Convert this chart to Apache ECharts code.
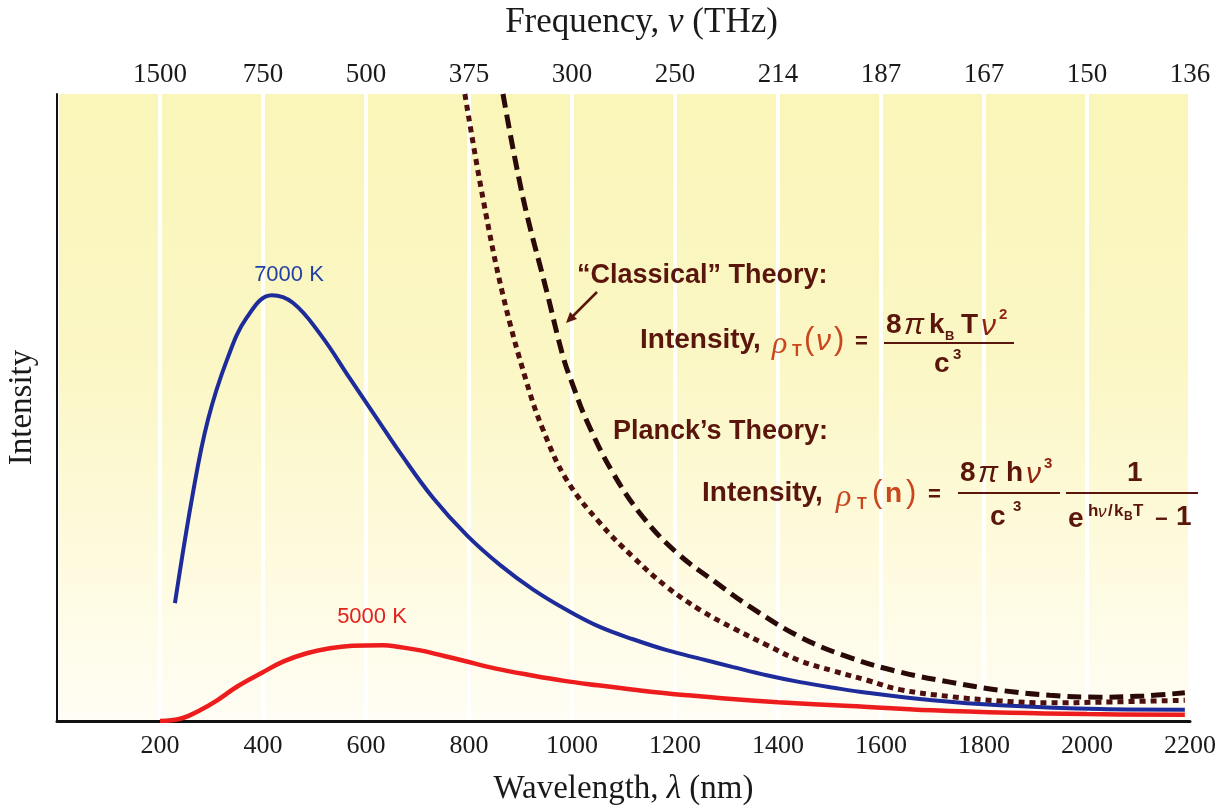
<!DOCTYPE html>
<html><head><meta charset="utf-8">
<script src="https://cdn.jsdelivr.net/npm/echarts@6/dist/echarts.min.js"></script>
<style>html,body{margin:0;padding:0;background:#fff}#c{width:1216px;height:807px}</style>
</head><body><div id="c"></div>
<script>
// ---- data ----
const wavelengthTicks = [0, 200, 400, 600, 800, 1000, 1200, 1400, 1600, 1800, 2000, 2200];
const wavelengthLabels = ['', '200', '400', '600', '800', '1000', '1200', '1400', '1600', '1800', '2000', '2200'];
const frequencyLabels = ['', '1500', '750', '500', '375', '300', '250', '214', '187', '167', '150', '136'];

// [wavelength nm, intensity (arbitrary units, axis 0-100)]
const planck7000K = [[229,18.8],[264,36.4],[293,48.0],[330,57.6],[369,64.4],[417,67.9],[458,66.7],[511,61.7],[569,54.6],[620,48.4],[666,42.8],[730,35.6],[796,29.6],[860,24.9],[924,21.0],[990,17.7],[1054,15.0],[1120,13.0],[1184,11.3],[1250,9.9],[1313,8.6],[1378,7.3],[1443,6.2],[1508,5.3],[1573,4.5],[1700,3.3],[1831,2.5],[2025,1.9],[2190,1.8]];
const planck5000K = [[200,0],[241,0.4],[275,1.6],[311,3.3],[350,5.5],[398,7.7],[440,9.5],[485,10.8],[530,11.6],[573,12.0],[633,12.1],[665,11.8],[703,11.3],[750,10.4],[790,9.6],[850,8.4],[920,7.3],[985,6.4],[1050,5.7],[1140,4.8],[1225,4.1],[1310,3.5],[1400,3.0],[1540,2.4],[1700,1.7],[1850,1.3],[2000,1.1],[2190,1.0]];
const classical5000K = [[792,100],[827,83.4],[866,67.9],[912,54.0],[944,46.4],[990,38.4],[1054,31.6],[1118,26.2],[1184,21.4],[1249,17.7],[1313,14.8],[1379,12.1],[1443,9.6],[1507,8.0],[1573,6.5],[1637,5.0],[1734,3.9],[1831,3.2],[1928,2.9],[2025,3.0],[2190,3.3]];
const classical7000K = [[866,100],[905,83.4],[951,68.5],[983,58.0],[1002,53.5],[1029,47.8],[1080,39.5],[1138,32.5],[1204,26.8],[1281,22.0],[1346,18.2],[1443,13.4],[1540,10.1],[1637,7.8],[1734,6.2],[1831,4.9],[1928,4.1],[2025,3.8],[2110,4.0],[2190,4.5]];

// ---- chart ----
const chart = echarts.init(document.getElementById('c'), null, {renderer: 'canvas'});
const serif = '"Liberation Serif", "Times New Roman", serif';
const sans = '"Liberation Sans", Arial, sans-serif';
const dark = '#5a160c';
const mid = '#8e2612';
const red = '#c9461f';

function labelAt(list) {
  return function (v) { const i = wavelengthTicks.indexOf(Math.round(v)); return i >= 0 ? list[i] : ''; };
}
function txt(text, x, y, size, color, o) {
  o = o || {};
  const font = (o.italic ? 'italic ' : '') + (o.bold === false ? '' : 'bold ') + size + 'px ' + (o.family || sans);
  return {type: 'text', x: x, y: y, z: 100, silent: true,
    style: {text: text, font: font, fill: color, align: o.align || 'left', verticalAlign: 'middle',
            textAlign: o.align || 'left', textVerticalAlign: 'middle'}};
}
function hline(x1, x2, y, color) {
  return {type: 'line', z: 100, silent: true, shape: {x1: x1, y1: y, x2: x2, y2: y}, style: {stroke: color, lineWidth: 2}};
}
const gi = {italic: true, bold: false, family: serif};
const gs = {italic: true, bold: false};

const graphics = [
  txt('7000 K', 289, 275, 22, '#2340a4', {bold: false, align: 'center'}),
  txt('5000 K', 372, 617, 22, '#e3201e', {bold: false, align: 'center'}),
  // classical theory
  txt('\u201CClassical\u201D Theory:', 577, 276, 27, dark),
  {type: 'line', z: 100, silent: true, shape: {x1: 597, y1: 292, x2: 572, y2: 317}, style: {stroke: dark, lineWidth: 2.5}},
  {type: 'polygon', z: 100, silent: true, shape: {points: [[566, 323], [577, 319], [570, 312]]}, style: {fill: dark}},
  txt('Intensity,', 640, 340, 28, dark),
  txt('\u03C1', 772, 345, 32, red, gi),
  txt('T', 792, 352, 16, red),
  txt('(', 804, 340, 31, red, {bold: false}),
  txt('\u03BD', 816, 342, 30, red, gs),
  txt(')', 834, 340, 31, red, {bold: false}),
  txt('=', 855, 342, 22, dark),
  txt('8', 886, 325, 28, dark),
  txt('\u03C0', 904, 326, 30, dark, gs),
  txt('k', 929, 325, 28, dark),
  txt('B', 945, 336, 13, dark),
  txt('T', 961, 325, 28, dark),
  txt('\u03BD', 981, 327, 30, mid, gs),
  txt('2', 999, 315, 15, mid),
  hline(884, 1014, 343, dark),
  txt('c', 934, 364, 28, dark),
  txt('3', 953, 355, 15, dark),
  // Planck theory
  txt('Planck\u2019s Theory:', 613, 432, 27, dark),
  txt('Intensity,', 702, 493, 28, dark),
  txt('\u03C1', 836, 498, 32, red, gi),
  txt('T', 857, 505, 16, red),
  txt('(', 872, 493, 31, red, {bold: false}),
  txt('n', 885, 494, 28, red),
  txt(')', 906, 493, 31, red, {bold: false}),
  txt('=', 928, 495, 22, dark),
  txt('8', 960, 473, 28, dark),
  txt('\u03C0', 978, 474, 30, dark, gs),
  txt('h', 1006, 473, 28, dark),
  txt('\u03BD', 1026, 475, 30, mid, gs),
  txt('3', 1044, 464, 15, mid),
  hline(958, 1060, 493, dark),
  txt('1', 1127, 473, 28, dark),
  hline(1066, 1198, 493, dark),
  txt('c', 990, 517, 28, dark),
  txt('3', 1013, 507, 15, dark),
  txt('e', 1068, 519, 28, dark),
  txt('h', 1088, 511, 17, dark),
  txt('\u03BD', 1098, 512, 17, dark, gs),
  txt('/', 1108, 511, 17, dark),
  txt('k', 1114, 511, 17, dark),
  txt('B', 1124, 517, 12, dark),
  txt('T', 1133, 511, 17, dark),
  txt('\u2212', 1155, 520, 22, dark),
  txt('1', 1176, 517, 28, dark)
];

const nameRich = {
  a: {fontFamily: serif, fontSize: 33, color: '#1a1a1a'},
  i: {fontFamily: serif, fontSize: 33, fontStyle: 'italic', color: '#1a1a1a'}
};
const nameRichTop = {
  a: {fontFamily: serif, fontSize: 35, color: '#1a1a1a'},
  i: {fontFamily: serif, fontSize: 35, fontStyle: 'italic', color: '#1a1a1a'}
};

const option = {
  animation: false,
  backgroundColor: '#ffffff',
  grid: {
    left: 57, right: 26, top: 94, bottom: 86, show: true, borderWidth: 0,
    outerBoundsMode: 'none', containLabel: false,
    backgroundColor: new echarts.graphic.LinearGradient(0, 0, 0, 1, [
      {offset: 0, color: '#faf5b8'},
      {offset: 0.45, color: '#fbf7c6'},
      {offset: 0.78, color: '#fefbe2'},
      {offset: 1, color: '#fffdf4'}
    ])
  },
  xAxis: [
    {
      type: 'value', min: 0, max: 2200, interval: 200, position: 'bottom',
      name: '{a|Wavelength, }{i|\u03BB}{a| (nm)}', nameLocation: 'middle', nameGap: 52,
      nameTextStyle: {rich: nameRich},
      axisLine: {show: true, onZero: false, lineStyle: {color: '#111', width: 3}},
      axisTick: {show: false},
      axisLabel: {formatter: labelAt(wavelengthLabels), fontFamily: serif, fontSize: 26, color: '#1a1a1a', margin: 12},
      splitLine: {show: true, lineStyle: {color: 'rgba(255,255,255,0.95)', width: 4}}
    },
    {
      type: 'value', min: 0, max: 2200, interval: 200, position: 'top',
      name: '{a|Frequency, }{i|\u03BD}{a| (THz)}', nameLocation: 'middle', nameGap: 54,
      nameTextStyle: {rich: nameRichTop, padding: [0, 0, 0, 36]},
      axisLine: {show: false}, axisTick: {show: false},
      axisLabel: {formatter: labelAt(frequencyLabels), fontFamily: serif, fontSize: 27, color: '#1a1a1a', margin: 6},
      splitLine: {show: false}
    }
  ],
  yAxis: {
    type: 'value', min: 0, max: 100,
    name: 'Intensity', nameLocation: 'middle', nameGap: 18, nameRotate: 90,
    nameTextStyle: {fontFamily: serif, fontSize: 33, color: '#1a1a1a'},
    axisLine: {show: true, lineStyle: {color: '#111', width: 2}},
    axisTick: {show: false}, axisLabel: {show: false}, splitLine: {show: false}
  },
  series: [
    {name: '7000 K', type: 'line', data: planck7000K, showSymbol: false, smooth: 0.4,
     lineStyle: {color: '#1d2c9a', width: 4}, z: 3},
    {name: '5000 K', type: 'line', data: planck5000K, showSymbol: false, smooth: 0.4,
     lineStyle: {color: '#ee1d1d', width: 4.5}, z: 3},
    {name: 'Classical 5000 K', type: 'line', data: classical5000K, showSymbol: false, smooth: 0.4,
     lineStyle: {color: '#4e0f0f', width: 5, type: [6, 5], cap: 'butt'}, z: 4},
    {name: 'Classical 7000 K', type: 'line', data: classical7000K, showSymbol: false, smooth: 0.4,
     lineStyle: {color: '#2a0a08', width: 5, type: [14, 7], cap: 'butt'}, z: 4}
  ],
  graphic: graphics
};
chart.setOption(option);
</script>
</body></html>
